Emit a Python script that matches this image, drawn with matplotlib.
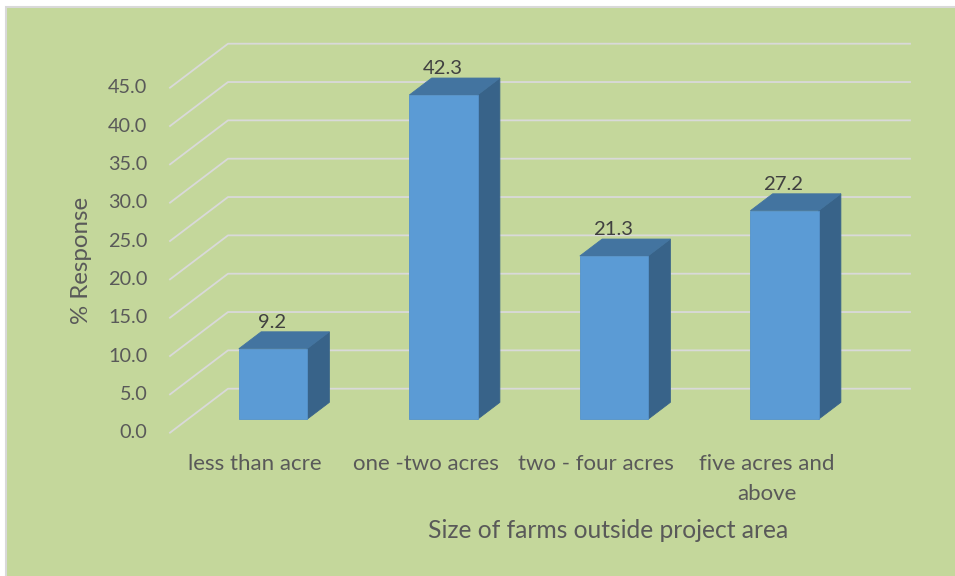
import matplotlib
matplotlib.use("Agg")
import matplotlib.pyplot as plt
import numpy as np
from matplotlib.patches import Polygon, Rectangle
from matplotlib.transforms import IdentityTransform, ScaledTranslation

# ---- data ----
categories = ["less than acre", "one -two acres", "two - four acres", "five acres and\nabove"]
responses = [9.2, 42.3, 21.3, 27.2]
y_ticks = [0, 5, 10, 15, 20, 25, 30, 35, 40, 45]
y_tick_labels = [f"{t:.1f}" for t in y_ticks]
x_title = "Size of farms outside project area"
y_title = "% Response"

# ---- style ----
plt.rcParams["font.family"] = ["Lato", "DejaVu Sans"]
BG = "#C4D79B"
GRID = "#D9D9D9"
FRONT = "#5B9BD5"
TOP = "#4374A0"
SIDE = "#386389"
TICK_C = "#595959"
LABEL_C = "#404040"

DPI = 100
fig = plt.figure(figsize=(9.55, 5.76), dpi=DPI, facecolor="white")

# chart area background with thin border (top and left edges visible)
fig.patches.append(Rectangle((6 / 955, -0.05), 1.2, 569 / 576 + 0.05,
                             transform=fig.transFigure, facecolor=BG,
                             edgecolor=GRID, linewidth=1.5, zorder=-5))

# front plane of the 3-D box: categories on x, value on y
ax = fig.add_axes([170 / 955, (576 - 432.7) / 576, 682 / 955, 345 / 576])
ax.set_xlim(0, len(categories))
ax.set_ylim(0, 45)
ax.axis("off")
ax.patch.set_alpha(0)

# oblique depth offset (inches) for depth 0..1
DEPTH_DX, DEPTH_DY = 0.58, 0.44


def proj(x, v, d):
    """Display coordinates of point (category x, value v, depth d)."""
    p = ax.transData.transform((x, v))
    return (p[0] + DEPTH_DX * d * DPI, p[1] + DEPTH_DY * d * DPI)


def depth_trans(d):
    return ax.transData + ScaledTranslation(DEPTH_DX * d, DEPTH_DY * d, fig.dpi_scale_trans)


fig.canvas.draw()
ident = IdentityTransform()

# gridlines: side-wall diagonal plus back wall line
for t in y_ticks:
    pts = [proj(0, t, 0), proj(0, t, 1), proj(len(categories), t, 1)]
    xs, ys = zip(*pts)
    ax.add_line(plt.Line2D(xs, ys, transform=ident, color=GRID, lw=1.3,
                           zorder=1, clip_on=False))

# tick labels along the front edge
for t, lab in zip(y_ticks, y_tick_labels):
    ax.annotate(lab, xy=(0, t), xytext=(-16.3, 0), textcoords="offset points",
                ha="right", va="center", fontsize=14.3, color=TICK_C,
                annotation_clip=False)

# 3-D bars
bar_w = 0.40
d0, d1 = 0.305, 0.69
for i, v in enumerate(responses):
    cx = i + 0.5
    x0, x1 = cx - bar_w / 2, cx + bar_w / 2
    side = [proj(x1, 0, d0), proj(x1, 0, d1), proj(x1, v, d1), proj(x1, v, d0)]
    top = [proj(x0, v, d0), proj(x1, v, d0), proj(x1, v, d1), proj(x0, v, d1)]
    ax.add_patch(Polygon(side, closed=True, transform=ident, facecolor=SIDE,
                         edgecolor=SIDE, lw=0.6, zorder=3, clip_on=False))
    ax.add_patch(Polygon(top, closed=True, transform=ident, facecolor=TOP,
                         edgecolor=TOP, lw=0.6, zorder=3, clip_on=False))
    ax.add_patch(Rectangle((x0, 0), bar_w, v, transform=depth_trans(d0),
                           facecolor=FRONT, edgecolor="#5592CB", lw=0.6,
                           zorder=4, clip_on=False))
    # value label
    ax.annotate(f"{v:.1f}", xy=(cx, v), xycoords=depth_trans(d0),
                xytext=(-0.7, 19), textcoords="offset points",
                ha="center", va="center", fontsize=14.6, color=LABEL_C,
                annotation_clip=False, zorder=5)

# category labels
for i, lab in enumerate(categories):
    ax.annotate(lab, xy=(i + 0.5, 0), xytext=(0, -15.3), textcoords="offset points",
                ha="center", va="top", fontsize=16, color=TICK_C,
                linespacing=1.6, multialignment="center", annotation_clip=False)

# axis titles
fig.text(608.4 / 955, (576 - 530) / 576, x_title, ha="center", va="center",
         fontsize=17.7, color=TICK_C)
fig.text(82 / 955, (576 - 260) / 576, y_title, ha="center", va="center",
         rotation=90, fontsize=17.3, color=TICK_C)

fig.savefig("out.png", dpi=DPI, facecolor="white")
